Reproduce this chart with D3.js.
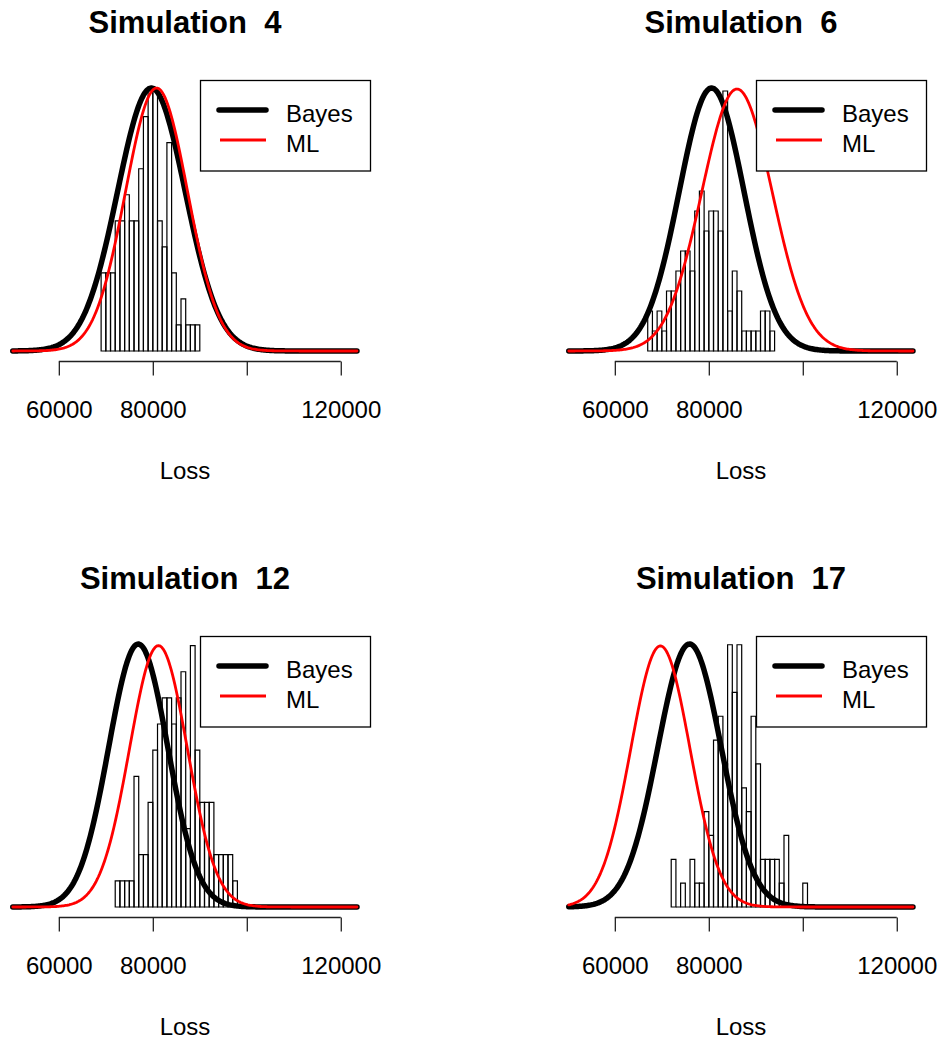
<!DOCTYPE html>
<html>
<head>
<meta charset="utf-8">
<script src="https://cdn.jsdelivr.net/npm/d3@7"></script>
<style>
  body { margin: 0; background: #fff; }
  text { font-family: "Liberation Sans", Arial, sans-serif; fill: #000; white-space: pre; }
</style>
</head>
<body>
<div id="chart"></div>
<script>
// four panels
var panelTitles = ["Simulation  4", "Simulation  6", "Simulation  12", "Simulation  17"];

// histogram: first break of each panel, bin width, counts per bin
var binStarts = [69000, 67000, 72000, 72000];
var binWidth = 1000;
var counts4  = [3, 3, 3, 5, 5, 6, 5, 5, 7, 9, 10, 10, 5, 4, 8, 3, 1, 2, 1, 1, 1];
var counts6  = [2, 1, 2, 1, 3, 3, 4, 5, 5, 4, 7, 8, 6, 7, 7, 6, 13, 2, 4, 3, 1, 1, 1, 1, 2, 2, 1];
var counts12 = [1, 1, 1, 1, 5, 2, 2, 4, 6, 7, 8, 8, 7, 8, 9, 3, 10, 6, 4, 4, 4, 2, 2, 2, 2, 1];
var counts17 = [2, 0, 1, 0, 2, 1, 1, 4, 3, 7, 8, 6, 11, 9, 11, 5, 4, 8, 6, 2, 2, 2, 2, 1, 3, 0, 0, 0, 1];

// fitted normal curves (mean, sd, peak height in histogram count units)
var bayesMean = [79700, 80600, 76900, 75900];
var bayesSd   = [7200, 6900, 6300, 6750];
var bayesPeak = [10.1, 13.15, 10.06, 11.03];
var mlMean = [80800, 86000, 81200, 69700];
var mlSd   = [6600, 7500, 6150, 6300];
var mlPeak = [10.1, 13.1, 10.0, 10.95];

var curveFrom = 50200, curveTo = 123500, curveStep = 250;

var tickValues = [60000, 80000, 100000, 120000];
var tickLabels = ["60000", "80000", "", "120000"]; // R drops the 100000 label (overlap)
var legendLabels = ["Bayes", "ML"];
var xLabel = "Loss";

var width = 942, height = 1040;
var panelStep = 556;

var svg = d3.select("#chart").append("svg")
	.attr("width", width)
	.attr("height", height)
	.style("background", "#fff");

function curvePoints(mean, sd, peak){
	return d3.range(curveFrom, curveTo + 1, curveStep).map(function(v){
		var z = (v - mean) / sd;
		return [v, peak * Math.exp(-0.5 * z * z)];
	});
}

function drawPanel(i, counts){
	var g = svg.append("g")
		.attr("transform", "translate(" + (i % 2) * panelStep + "," + Math.floor(i / 2) * panelStep + ")");

	// plot region, with R's 4% padding on both axes
	var pad = 0.04 * (curveTo - curveFrom);
	var x = d3.scaleLinear()
		.domain([curveFrom - pad, curveTo + pad])
		.range([-1, 371]);

	var ymax = Math.max(bayesPeak[i], mlPeak[i]);
	var y = d3.scaleLinear()
		.domain([-0.04 * ymax, 1.04 * ymax])
		.range([361.5, 77.5]);

	// title
	g.append("text")
		.attr("x", 185)
		.attr("y", 33)
		.attr("text-anchor", "middle")
		.style("font-size", "31px")
		.style("font-weight", "bold")
		.text(panelTitles[i]);

	// histogram (outline only, zero bins still give a baseline)
	g.append("g").selectAll("path")
		.data(counts)
	  .enter().append("path")
		.attr("d", function(d, j){
			var x0 = x(binStarts[i] + j * binWidth), x1 = x(binStarts[i] + (j + 1) * binWidth);
			return "M" + x0 + "," + y(0) + "V" + y(d) + "H" + x1 + "V" + y(0) + "Z";
		})
		.attr("fill", "none")
		.attr("stroke", "#000")
		.attr("stroke-width", 1.2);

	var line = d3.line()
		.x(function(d){ return x(d[0]); })
		.y(function(d){ return y(d[1]); });

	g.append("path")
		.datum(curvePoints(bayesMean[i], bayesSd[i], bayesPeak[i]))
		.attr("d", line)
		.attr("fill", "none")
		.attr("stroke", "#000")
		.attr("stroke-width", 5.5)
		.attr("stroke-linejoin", "round")
		.attr("stroke-linecap", "round");

	g.append("path")
		.datum(curvePoints(mlMean[i], mlSd[i], mlPeak[i]))
		.attr("d", line)
		.attr("fill", "none")
		.attr("stroke", "#ff0000")
		.attr("stroke-width", 2.8)
		.attr("stroke-linejoin", "round")
		.attr("stroke-linecap", "round");

	// x axis, line only between the outer ticks
	var xAxis = d3.axisBottom(x)
		.tickValues(tickValues)
		.tickFormat(function(d, j){ return tickLabels[j]; })
		.tickSize(14)
		.tickPadding(25);

	var ax = g.append("g")
		.attr("transform", "translate(0,361.5)")
		.call(xAxis);
	ax.select(".domain").remove();
	ax.append("line")
		.attr("x1", x(tickValues[0]))
		.attr("x2", x(tickValues[tickValues.length - 1]))
		.attr("stroke", "#222")
		.attr("stroke-width", 1.3);
	ax.selectAll(".tick line").attr("stroke", "#222").attr("stroke-width", 1.3);
	ax.selectAll(".tick text")
		.style("font-size", "24px")
		.style("font-family", "Liberation Sans, Arial, sans-serif")
		.attr("fill", "#000");

	g.append("text")
		.attr("x", 185)
		.attr("y", 479)
		.attr("text-anchor", "middle")
		.style("font-size", "24px")
		.text(xLabel);

	// legend, top right of plot region
	var lg = g.append("g");
	lg.append("rect")
		.attr("x", 200.5).attr("y", 80.5)
		.attr("width", 170).attr("height", 90.5)
		.attr("fill", "#fff")
		.attr("stroke", "#000")
		.attr("stroke-width", 1.3);
	lg.append("line")
		.attr("x1", 219).attr("x2", 266).attr("y1", 110).attr("y2", 110)
		.attr("stroke", "#000").attr("stroke-width", 5.5).attr("stroke-linecap", "round");
	lg.append("line")
		.attr("x1", 220).attr("x2", 266).attr("y1", 140).attr("y2", 140)
		.attr("stroke", "#ff0000").attr("stroke-width", 2.8);
	lg.selectAll("text.leg")
		.data(legendLabels)
	  .enter().append("text")
		.attr("class", "leg")
		.attr("x", 286)
		.attr("y", function(d, j){ return 121.5 + j * 30; })
		.style("font-size", "24px")
		.text(function(d){ return d; });
}

drawPanel(0, counts4);
drawPanel(1, counts6);
drawPanel(2, counts12);
drawPanel(3, counts17);
</script>
</body>
</html>
